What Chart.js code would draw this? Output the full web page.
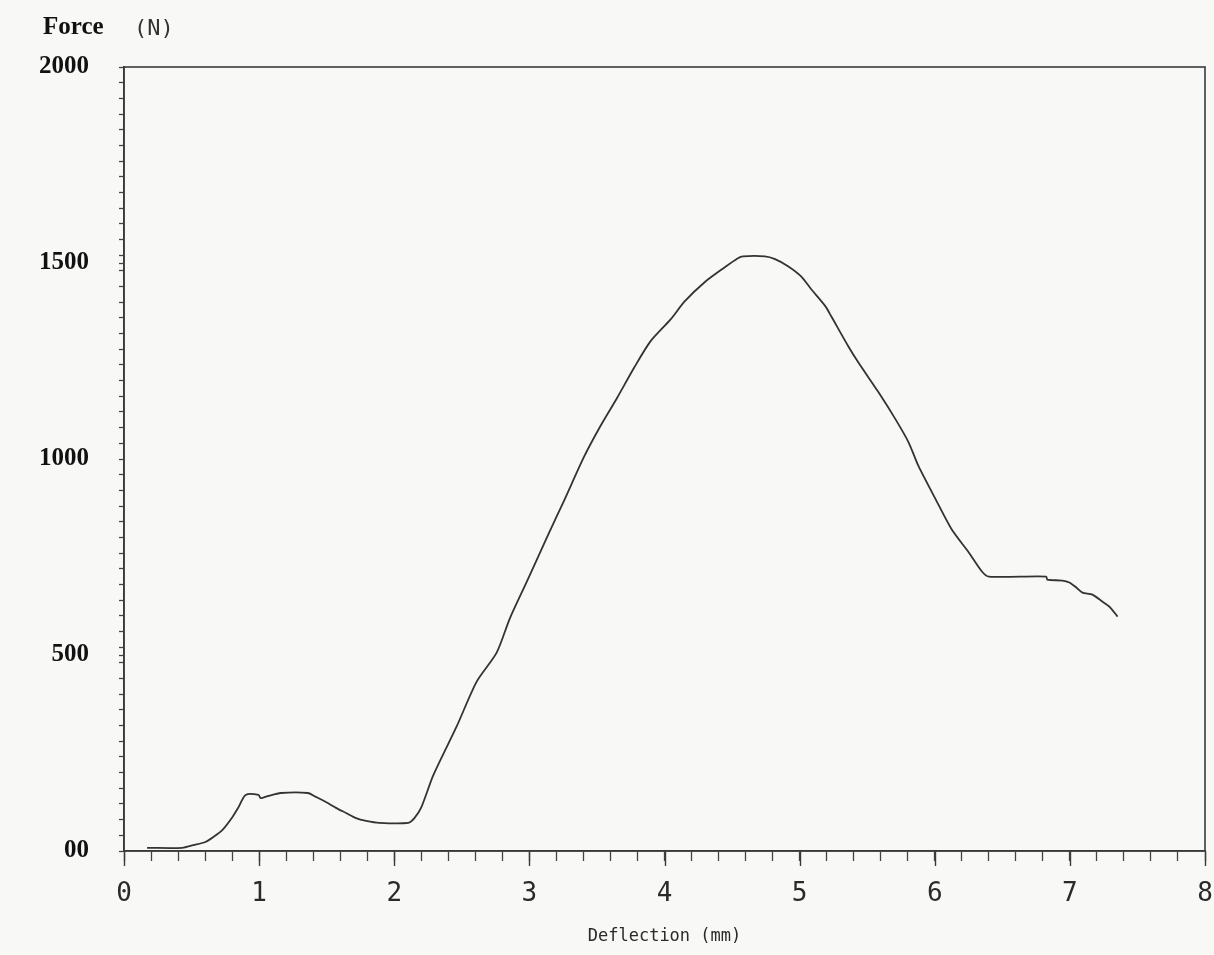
<!DOCTYPE html>
<html><head><meta charset="utf-8">
<script src="https://cdn.jsdelivr.net/npm/chart.js@4/dist/chart.umd.min.js"></script>
<style>html,body{margin:0;padding:0;background:#f8f8f7;}#wrap{width:1214px;height:955px;}</style>
</head><body><div id="wrap"><canvas id="c" width="1214" height="955"></canvas></div>
<script>
// Deflection (mm) and force (N)
const deflection = [0.171,0.431,0.513,0.602,0.662,0.729,0.803,0.848,0.900,0.996,1.011,1.063,1.160,1.361,1.420,1.494,1.569,1.643,1.717,1.792,1.888,2.104,2.149,2.201,2.290,2.461,2.610,2.758,2.855,2.981,3.130,3.257,3.405,3.524,3.651,3.777,3.896,4.045,4.149,4.297,4.446,4.543,4.580,4.743,4.818,4.914,5.011,5.086,5.190,5.234,5.361,5.435,5.584,5.710,5.807,5.881,6.007,6.126,6.253,6.349,6.401,6.825,6.833,6.944,6.996,7.048,7.093,7.167,7.242,7.294,7.353];
const force = [8,8,15,23,36,54,87,112,143,143,135,140,148,148,138,125,110,97,84,77,72,72,84,112,194,317,432,506,593,687,800,894,1006,1083,1157,1234,1300,1356,1402,1451,1489,1512,1517,1517,1510,1492,1466,1433,1390,1364,1287,1246,1170,1101,1042,981,897,820,761,713,700,700,692,690,685,672,659,654,636,623,598];

const xMajorTicks = [0,1,2,3,4,5,6,7,8];
const yTickValues = [0,500,1000,1500,2000];
const yTickLabels = ['00','500','1000','1500','2000'];
const xTitle = 'Deflection (mm)';
const yTitleWord = 'Force';
const yTitleUnit = '(N)';

const points = deflection.map((d, i) => ({x: d, y: force[i]}));

const decorPlugin = {
  id: 'decor',
  afterDraw(chart) {
    const {ctx, chartArea: a, scales} = chart;
    ctx.save();
    ctx.strokeStyle = '#3a3a3a';
    ctx.lineWidth = 1.6;
    ctx.strokeRect(a.left, a.top, a.right - a.left, a.bottom - a.top);
    ctx.lineWidth = 1.4;
    xMajorTicks.forEach(v => {
      const px = Math.round(scales.x.getPixelForValue(v)) + 0.5;
      ctx.beginPath();
      ctx.moveTo(px, a.bottom);
      ctx.lineTo(px, a.bottom + 15);
      ctx.stroke();
    });
    ctx.fillStyle = '#111';
    ctx.textBaseline = 'alphabetic';
    ctx.textAlign = 'left';
    ctx.font = 'bold 25px "Liberation Serif"';
    ctx.fillText(yTitleWord, 43, 34);
    ctx.fillStyle = '#333';
    ctx.font = '22px "DejaVu Sans Mono"';
    ctx.fillText(yTitleUnit, 134, 35);
    ctx.restore();
  }
};

new Chart(document.getElementById('c'), {
  type: 'scatter',
  data: {
    datasets: [{
      data: points,
      showLine: true,
      borderColor: '#333333',
      borderWidth: 1.8,
      pointRadius: 0,
      tension: 0.25,
      fill: false
    }]
  },
  options: {
    responsive: false,
    animation: false,
    devicePixelRatio: 1,
    layout: {padding: {top: 67, right: 9, left: 0, bottom: 0}},
    plugins: {legend: {display: false}, tooltip: {enabled: false}},
    scales: {
      x: {
        type: 'linear', min: 0, max: 8,
        afterFit(s) { s.height = 104; s.paddingRight = 0; s.paddingLeft = 0; },
        border: {display: true, color: '#3a3a3a', width: 1.6},
        grid: {drawOnChartArea: false, tickLength: 10, tickColor: '#444', tickWidth: 1.3},
        ticks: {
          stepSize: 0.2, autoSkip: false, maxRotation: 0, padding: 18,
          color: '#2a2a2a',
          font: {family: '"DejaVu Sans Mono"', size: 26},
          callback: v => (Math.abs(v - Math.round(v)) < 1e-6 ? String(Math.round(v)) : '')
        },
        title: {
          display: true, text: xTitle, color: '#2a2a2a',
          font: {family: '"DejaVu Sans Mono"', size: 17},
          padding: {top: 0, bottom: 8}
        }
      },
      y: {
        type: 'linear', min: 0, max: 2000,
        afterFit(s) { s.width = 124; },
        afterBuildTicks(s) {
          const t = [];
          for (let v = 0; v <= 2000; v += 40) t.push(v);
          yTickValues.forEach(v => { if (!t.includes(v)) t.push(v); });
          t.sort((a, b) => a - b);
          s.ticks = t.map(v => ({value: v}));
        },
        border: {display: true, color: '#3a3a3a', width: 1.6},
        grid: {drawOnChartArea: false, tickLength: 5, tickColor: '#444', tickWidth: 1.3},
        ticks: {
          autoSkip: false, padding: 30, color: '#111',
          font: {family: '"Liberation Serif"', size: 25, weight: 'bold'},
          callback: v => { const i = yTickValues.indexOf(v); return i >= 0 ? yTickLabels[i] : ''; }
        }
      }
    }
  },
  plugins: [decorPlugin]
});
</script>
</body></html>
